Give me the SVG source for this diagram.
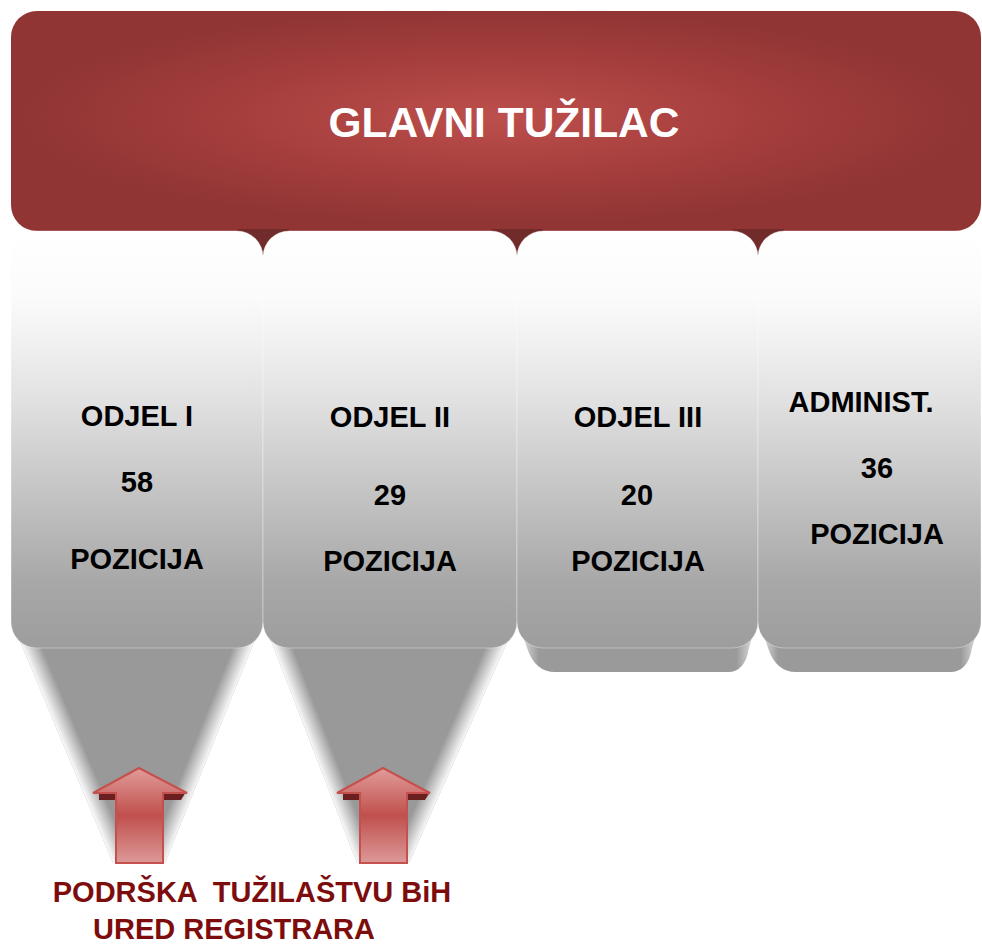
<svg xmlns="http://www.w3.org/2000/svg" width="982" height="944" viewBox="0 0 982 944">
<defs>
<style>
.t{font-family:"Liberation Sans",Arial,sans-serif;font-weight:bold;text-anchor:middle}
.lbl{font-size:29px;fill:#000}
.title{font-size:42.5px;fill:#fff}
.bot{font-size:29px;fill:#7d0d0d;white-space:pre}
.face{fill:url(#faceG);stroke:#ffffff;stroke-opacity:0.35;stroke-width:1}
.cone{fill:#999999}
.lip{fill:url(#lipG)}
.drop{fill:#722b2b}
.arrow{fill:url(#arrG);stroke:#c4514e;stroke-width:2}
.ashadow{fill:#6a2020}
</style>
<radialGradient id="redG" cx="0.5" cy="0.48" r="0.5">
<stop offset="0" stop-color="#bd4f4c"/>
<stop offset="0.55" stop-color="#a43e3d"/>
<stop offset="1" stop-color="#903434"/>
</radialGradient>
<linearGradient id="faceG" gradientUnits="userSpaceOnUse" x1="0" y1="231" x2="0" y2="648">
<stop offset="0" stop-color="#ffffff"/>
<stop offset="0.16" stop-color="#fbfbfb"/>
<stop offset="0.25" stop-color="#f2f2f2"/>
<stop offset="0.4" stop-color="#e2e2e2"/>
<stop offset="0.84" stop-color="#a8a8a8"/>
<stop offset="1" stop-color="#9d9d9d"/>
</linearGradient>
<linearGradient id="lipG" x1="0" y1="0" x2="1" y2="0">
<stop offset="0" stop-color="#eeeeee"/>
<stop offset="0.09" stop-color="#9a9a9a"/>
<stop offset="0.91" stop-color="#9a9a9a"/>
<stop offset="1" stop-color="#eeeeee"/>
</linearGradient>
<linearGradient id="c1L" gradientUnits="userSpaceOnUse" x1="11" y1="620" x2="27.6" y2="613">
<stop offset="0" stop-color="#ffffff" stop-opacity="0.95"/>
<stop offset="1" stop-color="#ffffff" stop-opacity="0"/>
</linearGradient>
<linearGradient id="c1R" gradientUnits="userSpaceOnUse" x1="263" y1="620" x2="246.3" y2="613.3">
<stop offset="0" stop-color="#ffffff" stop-opacity="0.95"/>
<stop offset="1" stop-color="#ffffff" stop-opacity="0"/>
</linearGradient>
<linearGradient id="c2L" gradientUnits="userSpaceOnUse" x1="263" y1="620" x2="279.8" y2="613.5">
<stop offset="0" stop-color="#ffffff" stop-opacity="0.95"/>
<stop offset="1" stop-color="#ffffff" stop-opacity="0"/>
</linearGradient>
<linearGradient id="c2R" gradientUnits="userSpaceOnUse" x1="517" y1="620" x2="500.5" y2="612.7">
<stop offset="0" stop-color="#ffffff" stop-opacity="0.95"/>
<stop offset="1" stop-color="#ffffff" stop-opacity="0"/>
</linearGradient>
<linearGradient id="arrG" x1="0" y1="0" x2="0" y2="1">
<stop offset="0" stop-color="#e19c9a"/>
<stop offset="0.5" stop-color="#c0504d"/>
<stop offset="1" stop-color="#dc9998"/>
</linearGradient>
</defs>

<g id="node-glavni-tuzilac">
<rect x="11" y="11" width="970" height="220" rx="26" fill="url(#redG)"/>
<text class="t title" x="504" y="137">GLAVNI TUŽILAC</text>
</g>

<g id="connectors">
<rect class="drop" x="237" y="229" width="52" height="28"/>
<rect class="drop" x="491" y="229" width="52" height="28"/>
<rect class="drop" x="732" y="229" width="52" height="28"/>
<polygon class="cone" points="11,620 263,620 165,863 113,863"/>
<polygon fill="url(#c1L)" points="11,620 263,620 165,863 113,863"/>
<polygon fill="url(#c1R)" points="11,620 263,620 165,863 113,863"/>
<polygon class="cone" points="263,620 517,620 409,863 357,863"/>
<polygon fill="url(#c2L)" points="263,620 517,620 409,863 357,863"/>
<polygon fill="url(#c2R)" points="263,620 517,620 409,863 357,863"/>
<path class="lip" d="M517,618 L527,648 Q535,672 555,672 L728,672 Q745,672 749,648 L758,618 Z"/>
<path class="lip" d="M758,618 L768,648 Q776,672 796,672 L950,672 Q968,672 972,648 L981,618 Z"/>
</g>

<g id="node-odjel-1">
<rect class="face" x="11" y="231" width="252" height="417" rx="26"/>
<text class="t lbl" x="137" y="426">ODJEL I</text>
<text class="t lbl" x="137" y="492">58</text>
<text class="t lbl" x="137" y="569">POZICIJA</text>
</g>

<g id="node-odjel-2">
<rect class="face" x="263" y="231" width="254" height="417" rx="26"/>
<text class="t lbl" x="390" y="427">ODJEL II</text>
<text class="t lbl" x="390" y="505">29</text>
<text class="t lbl" x="390" y="571">POZICIJA</text>
</g>

<g id="node-odjel-3">
<rect class="face" x="517" y="231" width="241" height="417" rx="26"/>
<text class="t lbl" x="638" y="427">ODJEL III</text>
<text class="t lbl" x="637" y="505">20</text>
<text class="t lbl" x="638" y="571">POZICIJA</text>
</g>

<g id="node-administ">
<rect class="face" x="758" y="231" width="223" height="417" rx="26"/>
<text class="t lbl" x="861" y="412">ADMINIST.</text>
<text class="t lbl" x="877" y="478">36</text>
<text class="t lbl" x="877" y="544">POZICIJA</text>
</g>

<g id="arrows">
<polygon class="ashadow" points="99,792 186,792 181,800 99,800"/>
<path class="arrow" d="M139,768 L187,793 L163,793 L163,863 L116,863 L116,793 L93,793 Z"/>
<polygon class="ashadow" points="343,792 430,792 425,800 343,800"/>
<path class="arrow" d="M383,768 L430,793 L407,793 L407,863 L360,863 L360,793 L337,793 Z"/>
</g>

<g id="node-podrska">
<text class="t bot" x="252" y="902">PODRŠKA  TUŽILAŠTVU BiH</text>
<text class="t bot" x="234" y="939">URED REGISTRARA</text>
</g>
</svg>
